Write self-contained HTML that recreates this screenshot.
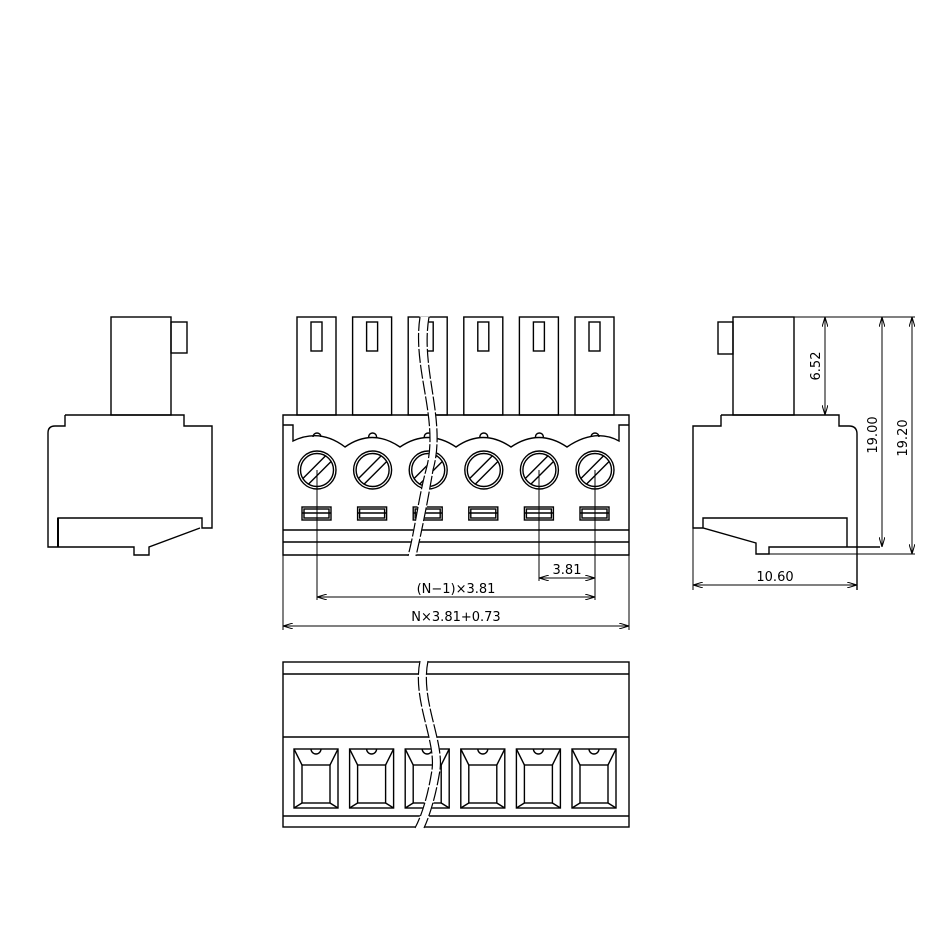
<!DOCTYPE html>
<html><head><style>html,body{margin:0;padding:0;background:#fff}svg{display:block}text{font-family:"DejaVu Sans","Liberation Sans",sans-serif;font-size:13px;fill:#000}</style></head><body>
<svg width="946" height="946" viewBox="0 0 946 946" xmlns="http://www.w3.org/2000/svg">
<defs>
<marker id="a" viewBox="0 0 10 6" refX="10" refY="3" markerWidth="10" markerHeight="6" orient="auto-start-reverse" markerUnits="userSpaceOnUse"><path d="M0,0 L10,3 L0,6" fill="none" stroke="#000" stroke-width="1"/></marker>
<g id="pin"><rect x="297" y="317" width="39" height="98"/><rect x="311" y="322" width="11" height="29"/></g>
<g id="scr"><circle cx="317" cy="470" r="19"/><circle cx="317" cy="470" r="16.5"/><line x1="302.9" y1="478.5" x2="325.5" y2="455.9"/><line x1="308.5" y1="484.1" x2="331.1" y2="461.5"/><path d="M313,437 a4,4 0 0 1 8,0"/><rect x="302" y="507" width="29" height="13"/><rect x="304" y="509" width="25" height="9"/><line x1="302" y1="513" x2="331" y2="513"/></g>
<g id="pk"><rect x="294" y="749" width="44" height="59"/><rect x="302" y="765" width="28" height="38"/><path d="M294,749 L302,765 M338,749 L330,765 M294,808 L302,803 M338,808 L330,803 M311,749 a5,5 0 0 0 10,0"/></g>
</defs>
<g fill="none" stroke="#000" stroke-width="1.4">
<!-- left view -->
<rect x="111" y="317" width="60" height="98"/>
<rect x="171" y="322" width="16" height="31"/>
<path d="M65,415 H184 V426 H212 V528 H202 V518 H58 V547 M65,415 V426 H55 Q48,426 48,433 V547 H134 V555 H149 V547 L200,528 M202,518 V528"/>
<line x1="58" y1="518" x2="58" y2="547" stroke-width="2"/>
<!-- front view -->
<use href="#pin"/><use href="#pin" x="55.6"/><use href="#pin" x="111.2"/><use href="#pin" x="166.8"/><use href="#pin" x="222.4"/><use href="#pin" x="278"/>
<path d="M283,415 H629 V555 H283 Z"/>
<path d="M283,425 H293 V441 Q320,428 345,447 Q372,428 400,447 Q428,428 456,447 Q483,428 511,447 Q539,428 567,447 Q595,428 619,441 V425 H629"/>
<line x1="283" y1="530" x2="629" y2="530"/><line x1="283" y1="542" x2="629" y2="542"/>
<use href="#scr"/><use href="#scr" x="55.6"/><use href="#scr" x="111.2"/><use href="#scr" x="166.8"/><use href="#scr" x="222.4"/><use href="#scr" x="278"/>
<path d="M420,317 C412,370 440,420 426,470 C418,500 415,530 408,556 L416,556 C422,530 428,500 433,470 C447,420 420,370 429,317 Z" fill="#fff" stroke="#fff" stroke-width="1"/>
<path d="M420,317 C412,370 440,420 426,470 C418,500 415,530 408,556 M429,317 C420,370 447,420 433,470 C428,500 422,530 416,556" stroke-width="1.2" stroke-dasharray="14,2"/>
<!-- front dims -->
<g stroke-width="1">
<line x1="317" y1="470" x2="317" y2="600"/><line x1="539" y1="470" x2="539" y2="581"/><line x1="595" y1="470" x2="595" y2="600"/>
<line x1="283" y1="555" x2="283" y2="630"/><line x1="629" y1="555" x2="629" y2="630"/>
<line x1="539" y1="578" x2="595" y2="578" marker-start="url(#a)" marker-end="url(#a)"/>
<line x1="317" y1="597" x2="595" y2="597" marker-start="url(#a)" marker-end="url(#a)"/>
<line x1="283" y1="626" x2="629" y2="626" marker-start="url(#a)" marker-end="url(#a)"/>
</g>
<!-- right view -->
<rect x="733" y="317" width="61" height="98"/>
<rect x="718" y="322" width="15" height="32"/>
<path d="M721,415 H839 V426 H849 Q857,426 857,434 V590 M721,415 V426 H693 V528 H703 L756,543 V554 H769 V547 H880 M703,528 V518 H847 V547"/>
<g stroke-width="1">
<line x1="794" y1="317" x2="915" y2="317"/><line x1="769" y1="554" x2="915" y2="554"/>
<line x1="825" y1="317" x2="825" y2="415" marker-start="url(#a)" marker-end="url(#a)"/>
<line x1="882" y1="317" x2="882" y2="547" marker-start="url(#a)" marker-end="url(#a)"/>
<line x1="912" y1="317" x2="912" y2="554" marker-start="url(#a)" marker-end="url(#a)"/>
<line x1="693" y1="528" x2="693" y2="590"/>
<line x1="693" y1="585" x2="857" y2="585" marker-start="url(#a)" marker-end="url(#a)"/>
</g>
<!-- bottom view -->
<rect x="283" y="662" width="346" height="165"/>
<line x1="283" y1="674" x2="629" y2="674"/><line x1="283" y1="737" x2="629" y2="737"/><line x1="283" y1="816" x2="629" y2="816"/>
<use href="#pk"/><use href="#pk" x="55.6"/><use href="#pk" x="111.2"/><use href="#pk" x="166.8"/><use href="#pk" x="222.4"/><use href="#pk" x="278"/>
<path d="M420,661 C412,700 436,740 432,770 C428,795 422,815 415,828 L424,828 C430,815 436,795 440,770 C444,740 420,700 428,661 Z" fill="#fff" stroke="#fff" stroke-width="1"/>
<path d="M420,661 C412,700 436,740 432,770 C428,795 422,815 415,828 M428,661 C420,700 444,740 440,770 C436,795 430,815 424,828" stroke-width="1.2" stroke-dasharray="14,2"/>
</g>
<text x="567" y="574" text-anchor="middle">3.81</text>
<text x="456" y="593" text-anchor="middle">(N−1)×3.81</text>
<text x="456" y="621" text-anchor="middle">N×3.81+0.73</text>
<text x="775" y="581" text-anchor="middle">10.60</text>
<text transform="translate(820,366) rotate(-90)" text-anchor="middle">6.52</text>
<text transform="translate(877,435) rotate(-90)" text-anchor="middle">19.00</text>
<text transform="translate(907,438) rotate(-90)" text-anchor="middle">19.20</text>
</svg>
</body></html>
